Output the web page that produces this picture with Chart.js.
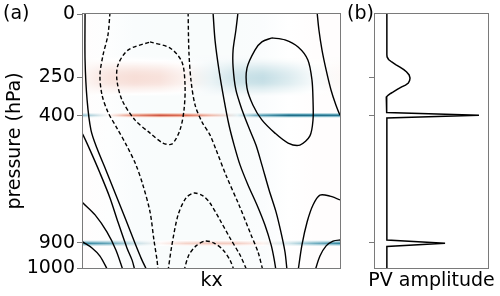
<!DOCTYPE html>
<html>
<head>
<meta charset="utf-8">
<script src="https://cdn.jsdelivr.net/npm/chart.js@4.4.1/dist/chart.umd.min.js"></script>
<style>
  html, body { margin: 0; padding: 0; background: #fff; }
  #wrap { position: relative; width: 500px; height: 296px; overflow: hidden; }
  #panelA { position: absolute; left: 0; top: 0; }
  #panelB { position: absolute; left: 345px; top: 0; }
</style>
</head>
<body>
<div id="wrap">
  <canvas id="panelA" width="345" height="296"></canvas>
  <canvas id="panelB" width="155" height="296"></canvas>
</div>
<script>
// --- tick labels ---
const pressureTicks = [0, 250, 400, 900, 1000];
const pvTicks = [250, 400, 900];

// --- PV amplitude profile, panel (b) ---
const pvPressure = [0, 160, 169, 179, 189, 199, 209, 219, 228, 240, 252, 262, 272, 280, 287, 297, 307, 313, 319, 327, 335, 345,
                    388, 399, 409, 890, 903, 915, 1000];
const pvAmp = [0.105, 0.105, 0.107, 0.12, 0.148, 0.183, 0.221, 0.255, 0.28, 0.302, 0.31, 0.306, 0.295, 0.27, 0.236, 0.197, 0.162, 0.138, 0.118, 0.1, 0.1, 0.105,
               0.105, 0.92, 0.105, 0.105, 0.62, 0.105, 0.105];
const pvBase = 0.105;

// --- PV anomaly along kx at each level, panel (a) shading ---
const kxSamples = [0, 0.1, 0.2, 0.3, 0.4, 0.5, 0.6, 0.7, 0.8, 0.9, 1.0];
const pv250Row = [0.2, 0.75, 1.0, 0.9, 0.45, -0.3, -0.85, -1.0, -0.7, -0.2, 0.12];
const pv400Row = [-0.5, 0.05, 0.7, 1.0, 0.85, 0.45, -0.1, -0.7, -1.0, -1.0, -0.95];
const pv900Row = [-1.3, -1.0, -0.4, 0.15, 0.5, 0.6, 0.55, 0.2, -0.35, -0.95, -1.3];
const bgRow = [0.012, -0.01, -0.025, -0.028, -0.028, -0.028, -0.028, -0.022, 0.002, 0.012, 0.012];

// --- streamfunction contours, [kx, p] ---
const solidContours = [
  [[0.008,-5],[0.008,181],[0.016,339],[0.031,457],[0.054,528],[0.089,614],[0.128,713],[0.167,811],[0.202,902],[0.226,961],[0.249,1010]],
  [[-0.012,457],[0,476],[0.027,535],[0.066,626],[0.105,724],[0.136,819],[0.171,921],[0.191,969],[0.202,1010]],
  [[-0.012,732],[0,744],[0.047,791],[0.093,858],[0.128,929],[0.156,1010]],
  [[-0.012,890],[0,898],[0.035,921],[0.066,953],[0.097,1010]],
  [[0.506,-5],[0.514,106],[0.529,220],[0.549,339],[0.568,437],[0.588,516],[0.611,594],[0.642,673],[0.677,752],[0.708,831],[0.732,909],[0.743,961],[0.751,1010]],
  [[0.603,-5],[0.595,63],[0.584,142],[0.584,209],[0.595,299],[0.619,378],[0.646,449],[0.673,516],[0.696,594],[0.724,693],[0.751,779],[0.770,858],[0.786,937],[0.794,1010]],
  [[0.735,94],[0.786,102],[0.837,130],[0.875,181],[0.891,260],[0.895,339],[0.895,417],[0.883,480],[0.844,516],[0.798,508],[0.747,469],[0.696,417],[0.661,358],[0.638,291],[0.638,213],[0.669,142],[0.696,110],[0.735,94]],
  [[0.911,-5],[0.918,63],[0.930,142],[0.946,220],[0.965,299],[0.984,358],[1.0,398],[1.02,437]],
  [[0.837,1010],[0.852,909],[0.872,819],[0.895,752],[0.922,713],[0.961,717],[1.0,732],[1.02,744]],
  [[0.903,1010],[0.922,953],[0.946,913],[0.973,894],[1.0,890],[1.02,890]]
];
const dashedContours = [
  [[0.105,-5],[0.097,83],[0.078,161],[0.066,240],[0.074,319],[0.097,386],[0.132,449],[0.171,520],[0.206,594],[0.233,673],[0.261,780],[0.276,890],[0.288,969],[0.292,1010]],
  [[0.261,110],[0.339,134],[0.385,189],[0.397,280],[0.393,378],[0.377,457],[0.346,512],[0.311,508],[0.261,469],[0.202,417],[0.152,339],[0.132,260],[0.136,201],[0.175,142],[0.261,110]],
  [[0.409,-5],[0.412,146],[0.420,260],[0.436,358],[0.463,425],[0.494,476],[0.518,535],[0.556,634],[0.607,752],[0.654,870],[0.681,937],[0.700,1010]],
  [[0.331,1010],[0.346,909],[0.370,791],[0.401,724],[0.432,705],[0.467,716],[0.494,744],[0.533,811],[0.572,882],[0.611,949],[0.638,1010]],
  [[0.393,1010],[0.412,949],[0.440,913],[0.475,894],[0.510,902],[0.545,929],[0.572,969],[0.588,1010]]
];

Chart.defaults.font.family = '"DejaVu Sans", sans-serif';
Chart.defaults.font.size = 19;
Chart.defaults.color = '#000';

const spineColor = '#7a7a7a';
const vmax = 0.9;

// diverging colour map, teal - white - red
const posStops = [[0, [255,255,255]], [0.2, [247,222,215]], [0.45, [236,170,150]], [0.7, [222,110,85]], [1, [180,50,45]]];
const negStops = [[0, [255,255,255]], [0.2, [210,230,235]], [0.45, [140,190,205]], [0.7, [50,135,160]], [1, [15,80,110]]];
function curl(t) {
  t = Math.max(-1, Math.min(1, t));
  const stops = t >= 0 ? posStops : negStops;
  const a = Math.abs(t);
  for (let i = 1; i < stops.length; i++) {
    if (a <= stops[i][0]) {
      const f = (a - stops[i-1][0]) / (stops[i][0] - stops[i-1][0]);
      const c = stops[i-1][1].map((v, j) => Math.round(v + f * (stops[i][1][j] - v)));
      return `rgb(${c[0]},${c[1]},${c[2]})`;
    }
  }
  const c = stops[stops.length-1][1];
  return `rgb(${c[0]},${c[1]},${c[2]})`;
}

function interpAmp(p) {
  if (p <= pvPressure[0]) return pvAmp[0];
  for (let i = 1; i < pvPressure.length; i++) {
    if (p <= pvPressure[i]) {
      const f = (p - pvPressure[i-1]) / (pvPressure[i] - pvPressure[i-1]);
      return pvAmp[i-1] + f * (pvAmp[i] - pvAmp[i-1]);
    }
  }
  return pvAmp[pvAmp.length-1];
}

// --- plugins ---
const shadePlugin = {
  id: 'shade',
  beforeDatasetsDraw(chart) {
    const { ctx, chartArea: a, scales: { x, y } } = chart;
    ctx.save();
    ctx.beginPath();
    ctx.rect(a.left, a.top, a.width, a.height);
    ctx.clip();
    const x0 = x.getPixelForValue(0), x1 = x.getPixelForValue(1);
    for (let py = Math.floor(a.top); py < a.bottom; py++) {
      const p = y.getValueForPixel(py + 0.5);
      const amp = Math.max(0, interpAmp(p) - pvBase);
      const row = p < 340 ? pv250Row : (p < 650 ? pv400Row : pv900Row);
      const g = ctx.createLinearGradient(x0, 0, x1, 0);
      kxSamples.forEach((k, i) => g.addColorStop(k, curl(amp * row[i] / vmax + bgRow[i])));
      ctx.fillStyle = g;
      ctx.fillRect(a.left, py, a.width, 1);
    }
    ctx.restore();
  }
};

const framePlugin = {
  id: 'frame',
  afterDatasetsDraw(chart) {
    const { ctx, chartArea: a } = chart;
    ctx.save();
    ctx.strokeStyle = spineColor;
    ctx.lineWidth = 1;
    ctx.strokeRect(a.left - 0.5, a.top - 0.5, a.width + 1, a.height + 1);
    ctx.restore();
  }
};

function panelLabel(text, px, py) {
  return {
    id: 'panelLabel',
    afterDraw(chart) {
      const ctx = chart.ctx;
      ctx.save();
      ctx.font = '19px "DejaVu Sans", sans-serif';
      ctx.fillStyle = '#000';
      ctx.textBaseline = 'middle';
      ctx.textAlign = 'left';
      ctx.fillText(text, px, py);
      ctx.restore();
    }
  };
}

// x-axis title drawn without the scale's width limit
function bottomTitle(text) {
  return {
    id: 'bottomTitle',
    afterDraw(chart) {
      const { ctx, chartArea: a } = chart;
      ctx.save();
      ctx.font = '19px "DejaVu Sans", sans-serif';
      ctx.fillStyle = '#000';
      ctx.textBaseline = 'middle';
      ctx.textAlign = 'center';
      ctx.fillText(text, (a.left + a.right) / 2, chart.height - 15.4);
      ctx.restore();
    }
  };
}

function contourDataset(pts, dashed) {
  return {
    data: pts.map(([k, p]) => ({ x: k, y: p })),
    showLine: true,
    pointRadius: 0,
    borderColor: '#000',
    borderWidth: 1.4,
    borderDash: dashed ? [4, 2.5] : [],
    tension: 0.3,
    fill: false
  };
}

// --- panel (a) ---
new Chart(document.getElementById('panelA'), {
  type: 'scatter',
  data: {
    datasets: [
      ...solidContours.map(c => contourDataset(c, false)),
      ...dashedContours.map(c => contourDataset(c, true))
    ]
  },
  options: {
    responsive: false,
    animation: false,
    layout: { padding: { top: 14, right: 5, left: 0, bottom: 0 } },
    plugins: { legend: { display: false }, tooltip: { enabled: false } },
    scales: {
      x: {
        type: 'linear', min: 0, max: 1,
        border: { display: false },
        grid: { display: false },
        ticks: { display: false },
        afterFit(s) { s.height = 28; }
      },
      y: {
        type: 'linear', reverse: true, min: 0, max: 1000,
        border: { display: false },
        grid: { drawOnChartArea: false, drawTicks: true, tickLength: 6, color: spineColor },
        ticks: { padding: 2, autoSkip: false, callback: v => String(v) },
        afterBuildTicks(s) { s.ticks = pressureTicks.map(v => ({ value: v })); },
        title: { display: true, text: 'pressure (hPa)', padding: { top: 4, bottom: 0 } },
        afterFit(s) { s.width = 83; }
      }
    }
  },
  plugins: [shadePlugin, framePlugin, panelLabel('(a)', 3, 14), bottomTitle('kx')]
});

// --- panel (b) ---
new Chart(document.getElementById('panelB'), {
  type: 'scatter',
  data: {
    datasets: [{
      data: pvPressure.map((p, i) => ({ x: pvAmp[i], y: p })),
      showLine: true,
      pointRadius: 0,
      borderColor: '#000',
      borderWidth: 1.5,
      tension: 0
    }]
  },
  options: {
    responsive: false,
    animation: false,
    layout: { padding: { top: 14, right: 12, left: 0, bottom: 0 } },
    plugins: { legend: { display: false }, tooltip: { enabled: false } },
    scales: {
      x: {
        type: 'linear', min: 0, max: 1,
        border: { display: false },
        grid: { display: false },
        ticks: { display: false },
        afterFit(s) { s.height = 28; }
      },
      y: {
        type: 'linear', reverse: true, min: 0, max: 1000,
        border: { display: false },
        grid: { drawOnChartArea: false, drawTicks: true, tickLength: 6, color: spineColor },
        ticks: { display: false },
        afterBuildTicks(s) { s.ticks = pvTicks.map(v => ({ value: v })); },
        afterFit(s) { s.width = 30; }
      }
    }
  },
  plugins: [framePlugin, panelLabel('(b)', 2, 14), bottomTitle('PV amplitude')]
});
</script>
</body>
</html>
